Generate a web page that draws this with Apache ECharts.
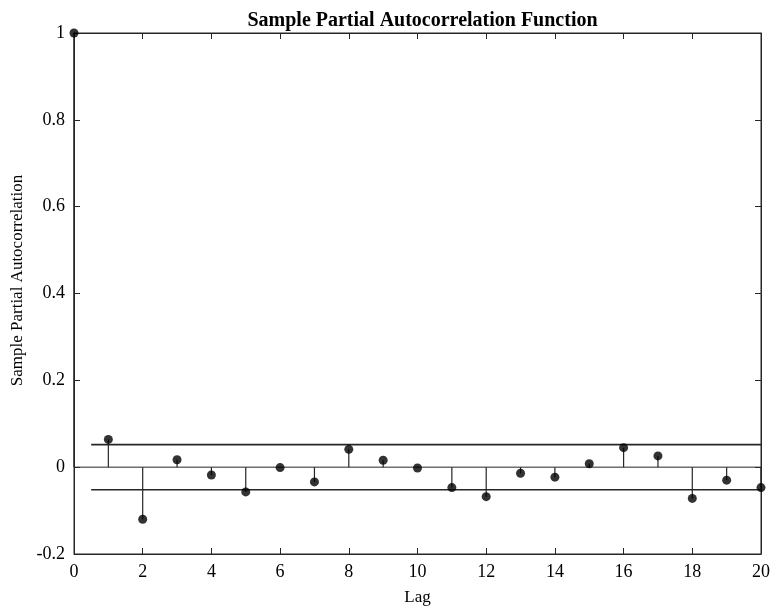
<!DOCTYPE html>
<html>
<head>
<meta charset="utf-8">
<script src="https://cdn.jsdelivr.net/npm/echarts@6/dist/echarts.min.js"></script>
<style>html,body{margin:0;padding:0;background:#fff;}#chart{width:774px;height:607px;}</style>
</head>
<body>
<div id="chart"></div>
<script>
var lags = [0,1,2,3,4,5,6,7,8,9,10,11,12,13,14,15,16,17,18,19,20];
var pacf = [1,0.064,-0.120,0.017,-0.018,-0.057,-0.001,-0.034,0.041,0.016,-0.002,-0.047,-0.068,-0.014,-0.023,0.008,0.045,0.026,-0.072,-0.030,-0.047];
var boundLag = [0.5, 20];
var upperBound = [0.052, 0.052];
var lowerBound = [-0.052, -0.052];
var zeroLag = [0, 20];
var zeroVal = [0, 0];
var xTicks = [0,2,4,6,8,10,12,14,16,18,20];
var yTicks = [-0.2,0,0.2,0.4,0.6,0.8,1];

var FONT = 'Liberation Serif';
var AX = '#262626';
function pairs(xs, ys){ return xs.map(function(x,i){ return [x, ys[i]]; }); }
function fmt(v){ return String(Math.round(v*10)/10); }

var chart = echarts.init(document.getElementById('chart'), null, {renderer:'canvas'});
var axisCommon = {
  axisLine:{show:true, onZero:false, lineStyle:{color:AX, width:1}},
  axisTick:{show:true, inside:true, length:6, lineStyle:{color:AX, width:1}},
  splitLine:{show:false}
};
chart.setOption({
  animation:false,
  backgroundColor:'#fff',
  title:{
    text:'Sample Partial Autocorrelation Function',
    left:417.5, textAlign:'center', top:6,
    textStyle:{fontFamily:FONT, fontWeight:'bold', fontSize:20, color:'#000'}
  },
  grid:{left:74, right:13, top:33, bottom:53, containLabel:false, outerBoundsMode:'none',
        show:true, borderColor:AX, borderWidth:1, backgroundColor:'transparent'},
  xAxis:[
    Object.assign({}, axisCommon, {
      type:'value', min:xTicks[0], max:xTicks[xTicks.length-1], interval:2, position:'bottom',
      name:'Lag', nameLocation:'middle', nameGap:35,
      nameTextStyle:{fontFamily:FONT, fontSize:17, color:'#000'},
      axisLabel:{fontFamily:FONT, fontSize:18, color:'#000', margin:9, formatter:fmt}
    }),
    Object.assign({}, axisCommon, {
      type:'value', min:xTicks[0], max:xTicks[xTicks.length-1], interval:2, position:'top',
      axisLabel:{show:false}
    })
  ],
  yAxis:[
    Object.assign({}, axisCommon, {
      type:'value', min:yTicks[0], max:yTicks[yTicks.length-1], interval:0.2, position:'left',
      name:'Sample Partial Autocorrelation', nameLocation:'middle', nameGap:48, nameRotate:90,
      nameTextStyle:{fontFamily:FONT, fontSize:17, color:'#000', padding:[0,0,0,26]},
      axisLabel:{fontFamily:FONT, fontSize:18, color:'#000', margin:9, formatter:fmt}
    }),
    Object.assign({}, axisCommon, {
      type:'value', min:yTicks[0], max:yTicks[yTicks.length-1], interval:0.2, position:'right',
      axisLabel:{show:false}
    })
  ],
  series:[
    {type:'line', data:pairs(zeroLag, zeroVal), symbol:'none', lineStyle:{color:AX, width:1}, z:2},
    {type:'line', data:pairs(boundLag, upperBound), symbol:'none', lineStyle:{color:AX, width:1.6}, z:2},
    {type:'line', data:pairs(boundLag, lowerBound), symbol:'none', lineStyle:{color:AX, width:1.6}, z:2},
    {type:'bar', data:pairs(lags, pacf), barWidth:1.2, itemStyle:{color:AX}, z:3},
    {type:'scatter', data:pairs(lags, pacf), symbol:'circle', symbolSize:9, itemStyle:{color:'#000'}, z:4}
  ]
});
</script>
</body>
</html>
